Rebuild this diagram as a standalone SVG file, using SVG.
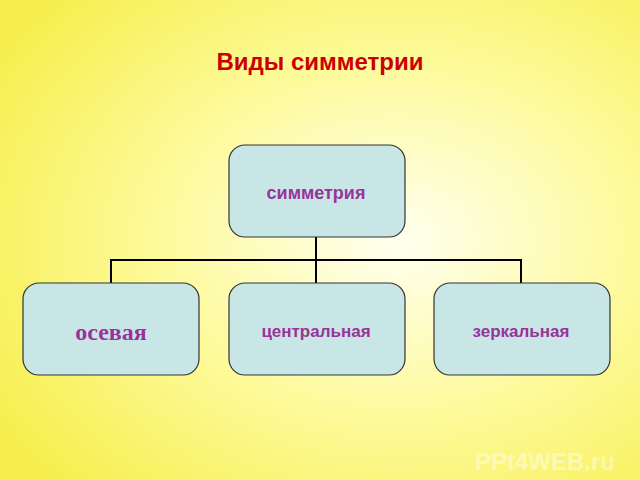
<svg xmlns="http://www.w3.org/2000/svg" width="640" height="480" viewBox="0 0 640 480">
<defs>
<radialGradient id="bg" cx="0.62" cy="0.5" r="0.75">
<stop offset="0" stop-color="#fffff0"/>
<stop offset="0.5" stop-color="#fdfa9a"/>
<stop offset="1" stop-color="#f6ee4a"/>
</radialGradient>
</defs>
<style>
.box{fill:#c8e6e6;stroke:#333;stroke-width:1.2}
.t{font-family:"Liberation Sans",Arial,sans-serif;font-weight:bold;fill:#993399;text-anchor:middle}
.c{stroke:#000;stroke-width:2;fill:none}
</style>
<rect width="640" height="480" fill="url(#bg)"/>
<text x="320" y="70" font-family="Liberation Sans,Arial,sans-serif" font-weight="bold" font-size="24" fill="#cc0000" text-anchor="middle">Виды симметрии</text>
<g id="connectors">
<path class="c" d="M316 237V260M111 283V260H521V283M316 260V283"/>
</g>
<g id="n0"><rect class="box" x="229" y="145" width="176" height="92" rx="16"/><text class="t" x="316" y="199" font-size="18">симметрия</text></g>
<g id="n1"><rect class="box" x="23" y="283" width="176" height="92" rx="16"/><text class="t" x="111" y="340" font-size="24" style="font-family:'Liberation Serif',serif">осевая</text></g>
<g id="n2"><rect class="box" x="229" y="283" width="176" height="92" rx="16"/><text class="t" x="316" y="337" font-size="17">центральная</text></g>
<g id="n3"><rect class="box" x="434" y="283" width="176" height="92" rx="16"/><text class="t" x="521" y="337" font-size="17">зеркальная</text></g>
<text x="545" y="470" font-family="Liberation Sans,Arial,sans-serif" font-weight="bold" font-size="24" fill="#ffffff" fill-opacity="0.45" text-anchor="middle">PPt4WEB.ru</text>
</svg>
